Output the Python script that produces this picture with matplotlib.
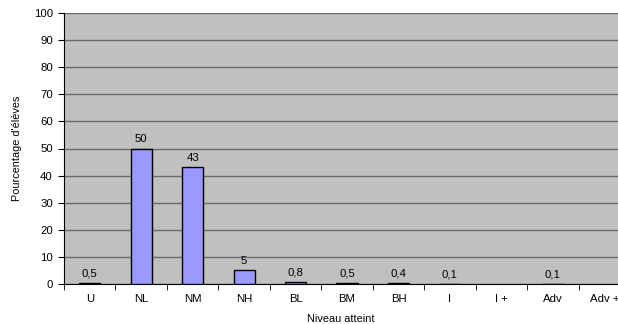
import numpy as np
import matplotlib.pyplot as plt

plt.rcParams['font.family'] = ['Liberation Sans', 'DejaVu Sans']

categories = ["U", "NL", "NM", "NH", "BL", "BM", "BH", "I", "I +", "Adv", "Adv +"]
values = [0.5, 50, 43, 5, 0.8, 0.5, 0.4, 0.1, None, 0.1, None]
value_labels = ["0,5", "50", "43", "5", "0,8", "0,5", "0,4", "0,1", "", "0,1", ""]

fig = plt.figure(figsize=(6.18, 3.24), dpi=100)
ax = fig.add_axes([64 / 618, 40 / 324, 566 / 618, 271 / 324])
ax.set_facecolor("#C0C0C0")

x = np.arange(len(categories))
for i, v in enumerate(values):
    if v is None:
        continue
    ax.bar(x[i], v, width=0.41, color="#9999FF", edgecolor="black", linewidth=1, zorder=3)
    ax.text(x[i], v + 1.5, value_labels[i], ha="center", va="bottom", fontsize=8.2, zorder=4)

ax.set_xlim(-0.5, len(categories) - 0.5)
ax.set_ylim(0, 100)
ax.set_yticks(np.arange(0, 101, 10))
ax.yaxis.grid(True, color="#6a6a6a", linewidth=1)
ax.set_axisbelow(True)

ax.set_xticks(x)
ax.set_xticklabels(categories, fontsize=8.2)
ax.set_xticks(np.arange(-0.5, len(categories)), minor=True)
ax.tick_params(axis="x", which="major", length=0, pad=7)
ax.tick_params(axis="x", which="minor", length=4, direction="out")
ax.tick_params(axis="y", labelsize=8.2, length=4, direction="out", pad=4)

for s in ["top", "right"]:
    ax.spines[s].set_visible(False)
ax.spines["left"].set_color("black")
ax.spines["bottom"].set_color("black")

ax.set_ylabel("Pourcentage d'élèves", fontsize=7.8)
ax.yaxis.set_label_coords(-0.075, 0.5)
ax.set_xlabel("Niveau atteint", fontsize=7.8)
ax.xaxis.set_label_coords(0.489, -0.11)

fig.savefig("out.png", dpi=100)
